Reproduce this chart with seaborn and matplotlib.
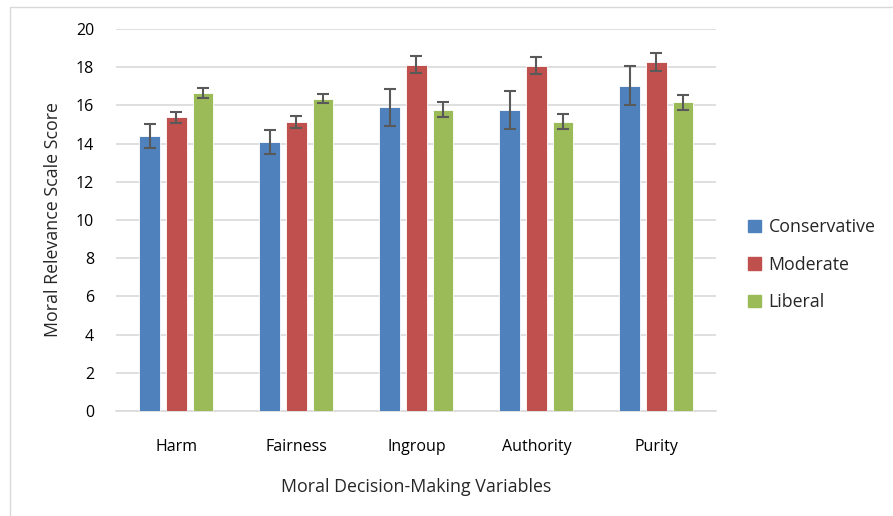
import matplotlib
matplotlib.use('Agg')
import matplotlib.pyplot as plt
import matplotlib.patches as mpatches
import seaborn as sns
import pandas as pd

# data
variables = ['Harm', 'Fairness', 'Ingroup', 'Authority', 'Purity']
groups = ['Conservative', 'Moderate', 'Liberal']
conservative = [14.40, 14.08, 15.90, 15.76, 17.02]
moderate = [15.38, 15.13, 18.14, 18.08, 18.26]
liberal = [16.63, 16.36, 15.77, 15.15, 16.17]
conservative_err = [0.65, 0.63, 0.98, 1.00, 1.02]
moderate_err = [0.29, 0.29, 0.45, 0.46, 0.47]
liberal_err = [0.26, 0.25, 0.40, 0.38, 0.40]

colors = ['#4F81BD', '#C0504D', '#9BBB59']
grid_col = '#D9D9D9'

df = pd.DataFrame({
    'variable': variables * 3,
    'group': [g for g in groups for _ in variables],
    'score': conservative + moderate + liberal,
})
errs = [conservative_err, moderate_err, liberal_err]

sns.set_style('white')
plt.rcParams['font.family'] = ['Open Sans', 'DejaVu Sans']

fig = plt.figure(figsize=(8.93, 5.16), dpi=100)
ax = fig.add_axes([0.1302, 0.2035, 0.6720, 0.7403])

sns.barplot(data=df, x='variable', y='score', hue='group', order=variables,
            hue_order=groups, palette=colors, saturation=1, width=0.667, gap=0.22,
            edgecolor='white', linewidth=0.6, errorbar=None, legend=False, ax=ax, zorder=3)

# error bars on top of each bar
for cont, err in zip(ax.containers, errs):
    xs = [b.get_x() + b.get_width() / 2 for b in cont]
    ys = [b.get_height() for b in cont]
    ax.errorbar(xs, ys, yerr=err, fmt='none', ecolor='#595959', elinewidth=1.5,
                capsize=4.5, capthick=1.5, zorder=4)

ax.set_xlim(-0.5, 4.5)
ax.set_ylim(0, 20)
ax.set_yticks(range(0, 21, 2))
ax.yaxis.grid(True, color=grid_col, linewidth=1.2, zorder=0)
ax.set_axisbelow(True)
for s in ['left', 'right', 'top']:
    ax.spines[s].set_visible(False)
ax.spines['bottom'].set_color(grid_col)
ax.spines['bottom'].set_linewidth(1.2)
ax.tick_params(axis='both', length=0, labelsize=11.5, colors='#000000')
ax.tick_params(axis='x', pad=20)
ax.tick_params(axis='y', pad=16)
ax.set_xlabel('Moral Decision-Making Variables', fontsize=12.8, labelpad=17)
ax.set_ylabel('Moral Relevance Scale Score', fontsize=12.8, labelpad=10)

handles = [mpatches.Patch(color=c, label=g) for c, g in zip(colors, groups)]
fig.legend(handles=handles, loc='center left', bbox_to_anchor=(0.82, 0.487),
           frameon=False, fontsize=12.8, handlelength=0.7, handleheight=0.7,
           handletextpad=0.45, labelspacing=1.1)

# light border around the chart area
fig.patches.append(mpatches.Rectangle((0.0115, -0.02), 1.1, 1.006, transform=fig.transFigure,
                                      fill=False, edgecolor='#D9D9D9', linewidth=1))

fig.savefig('out.png', dpi=100)
